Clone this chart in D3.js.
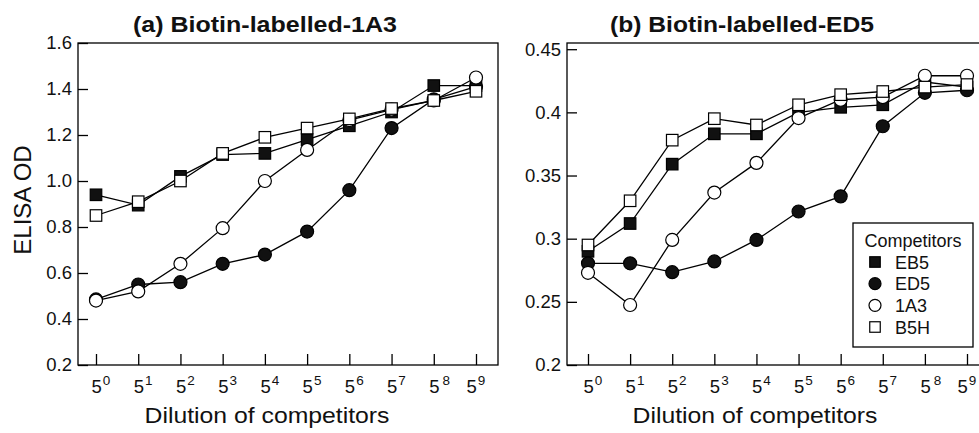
<!DOCTYPE html>
<html>
<head>
<meta charset="utf-8">
<script src="https://cdn.jsdelivr.net/npm/d3@7"></script>
<style>
  body { margin: 0; background: #fff; }
  svg { font-family: "Liberation Sans", Arial, Helvetica, sans-serif; }
  .tick line { stroke: #000; stroke-width: 1.3; }
  .tick text { fill: #111; }
</style>
</head>
<body>
<svg width="979" height="433"></svg>
<script>
// Data: dilution exponents (5^n) and ELISA OD readings per competitor
var dilutionExp = [0, 1, 2, 3, 4, 5, 6, 7, 8, 9];
var competitors = ["EB5", "ED5", "1A3", "B5H"];

// (a) Biotin-labelled-1A3
var a_EB5 = [0.94, 0.895, 1.02, 1.115, 1.12, 1.18, 1.24, 1.30, 1.415, 1.415];
var a_ED5 = [0.485, 0.55, 0.56, 0.64, 0.68, 0.78, 0.96, 1.23, 1.355, 1.41];
var a_1A3 = [0.48, 0.52, 0.64, 0.795, 1.00, 1.135, 1.265, 1.31, 1.35, 1.45];
var a_B5H = [0.85, 0.91, 1.00, 1.12, 1.19, 1.23, 1.27, 1.315, 1.35, 1.39];
var a_yTicks = [0.2, 0.4, 0.6, 0.8, 1.0, 1.2, 1.4, 1.6];

// (b) Biotin-labelled-ED5
var b_EB5 = [0.290, 0.312, 0.359, 0.383, 0.383, 0.400, 0.404, 0.406, 0.424, 0.420];
var b_ED5 = [0.2805, 0.2805, 0.2735, 0.282, 0.299, 0.3215, 0.3335, 0.389, 0.4155, 0.4175];
var b_1A3 = [0.273, 0.2475, 0.299, 0.3365, 0.360, 0.3955, 0.410, 0.412, 0.429, 0.429];
var b_B5H = [0.295, 0.330, 0.378, 0.395, 0.390, 0.406, 0.414, 0.4165, 0.420, 0.422];
var b_yTicks = [0.2, 0.25, 0.3, 0.35, 0.4, 0.45];

var svg = d3.select("svg");

// marker styles per competitor
var markerStyle = {
    "EB5": { shape: "square", fill: "#111" },
    "ED5": { shape: "circle", fill: "#111" },
    "1A3": { shape: "circle", fill: "#fff" },
    "B5H": { shape: "square", fill: "#fff" }
};

function drawMarker(g, name, x, y, size) {
    var st = markerStyle[name];
    if (st.shape === "circle") {
        g.append("circle").attr("cx", x).attr("cy", y).attr("r", size / 2)
            .attr("fill", st.fill).attr("stroke", "#000").attr("stroke-width", 1.2);
    } else {
        var s = size - 1.5;
        g.append("rect").attr("x", x - s / 2).attr("y", y - s / 2)
            .attr("width", s).attr("height", s)
            .attr("fill", st.fill).attr("stroke", "#000").attr("stroke-width", 1.2);
    }
}

function drawPanel(p) {
    var g = svg.append("g");

    var x = d3.scaleLinear().domain([0, 9]).range([p.x0, p.x9]);
    var y = d3.scaleLinear().domain(p.yDomain).range(p.yRange);

    // frame
    g.append("rect")
        .attr("x", p.left).attr("y", p.top)
        .attr("width", p.right - p.left).attr("height", p.bottom - p.top)
        .attr("fill", "none").attr("stroke", "#000").attr("stroke-width", 1.3);

    // y axis, ticks pointing inward
    var yAxis = g.append("g")
        .attr("transform", "translate(" + p.left + ",0)")
        .call(d3.axisLeft(y).tickValues(p.yTicks).tickSizeInner(-10).tickSizeOuter(0).tickPadding(6)
            .tickFormat(d3.format(p.yFormat)));
    yAxis.select(".domain").remove();
    yAxis.selectAll(".tick text").attr("font-size", 18.5);

    // x axis, ticks pointing inward, labels 5^n
    var xAxis = g.append("g")
        .attr("transform", "translate(0," + p.bottom + ")")
        .call(d3.axisBottom(x).tickValues(dilutionExp).tickSizeInner(-11).tickSizeOuter(0).tickPadding(15));
    xAxis.select(".domain").remove();
    xAxis.selectAll(".tick text")
        .attr("font-size", 18.5)
        .attr("text-anchor", "start")
        .attr("x", function(d) { return d === 9 ? -10 : -5; })
        .each(function(d) {
            var t = d3.select(this).text("5");
            t.append("tspan").attr("font-size", 13.5).attr("dy", -8).attr("dx", d === 8 ? 3 : 1).text(d);
        });

    var series = [
        { name: "EB5", values: p.data[0] },
        { name: "ED5", values: p.data[1] },
        { name: "1A3", values: p.data[2] },
        { name: "B5H", values: p.data[3] }
    ];

    var line = d3.line()
        .x(function(d, i) { return x(dilutionExp[i]); })
        .y(function(d) { return y(d); });

    g.selectAll(".series-line")
        .data(series)
        .enter().append("path")
        .attr("class", "series-line")
        .attr("d", function(s) { return line(s.values); })
        .attr("fill", "none").attr("stroke", "#000").attr("stroke-width", 1.3);

    series.forEach(function(s) {
        s.values.forEach(function(v, i) {
            drawMarker(g, s.name, x(dilutionExp[i]), y(v), 13);
        });
    });

    // titles
    svg.append("text")
        .attr("x", p.titleX).attr("y", 32)
        .attr("text-anchor", "middle")
        .attr("font-size", 22).attr("font-weight", "bold").attr("fill", "#111")
        .attr("textLength", 264).attr("lengthAdjust", "spacingAndGlyphs")
        .text(p.title);

    svg.append("text")
        .attr("x", p.xTitleX).attr("y", 423)
        .attr("text-anchor", "middle")
        .attr("font-size", 22).attr("fill", "#111")
        .attr("textLength", 245).attr("lengthAdjust", "spacingAndGlyphs")
        .text("Dilution of competitors");

    return g;
}

drawPanel({
    left: 78, right: 498, top: 43, bottom: 365,
    x0: 96, x9: 476,
    yDomain: [0.2, 1.6], yRange: [365, 43], yTicks: a_yTicks, yFormat: ".1f",
    data: [a_EB5, a_ED5, a_1A3, a_B5H],
    title: "(a) Biotin-labelled-1A3", titleX: 265, xTitleX: 267
});

drawPanel({
    left: 567, right: 990, top: 43, bottom: 365,
    x0: 588, x9: 967,
    yDomain: [0.2, 0.45], yRange: [365, 49.2], yTicks: b_yTicks, yFormat: "",
    data: [b_EB5, b_ED5, b_1A3, b_B5H],
    title: "(b) Biotin-labelled-ED5", titleX: 742, xTitleX: 755
});

// y axis title (left panel only)
svg.append("text")
    .attr("transform", "translate(31,200) rotate(-90)")
    .attr("text-anchor", "middle")
    .attr("font-size", 24).attr("fill", "#111")
    .text("ELISA OD");

// legend
var lg = svg.append("g");
lg.append("rect")
    .attr("x", 853).attr("y", 223).attr("width", 120).attr("height", 124)
    .attr("fill", "#fff").attr("stroke", "#000").attr("stroke-width", 1.3);
lg.append("text")
    .attr("x", 913).attr("y", 247).attr("text-anchor", "middle")
    .attr("font-size", 18).attr("fill", "#111")
    .text("Competitors");
var legendY = d3.scalePoint().domain(competitors).range([262, 327]);
competitors.forEach(function(c) {
    drawMarker(lg, c, 875, legendY(c), 12);
    lg.append("text")
        .attr("x", 895).attr("y", legendY(c) + 6.5)
        .attr("font-size", 18).attr("fill", "#111")
        .text(c);
});
</script>
</body>
</html>
